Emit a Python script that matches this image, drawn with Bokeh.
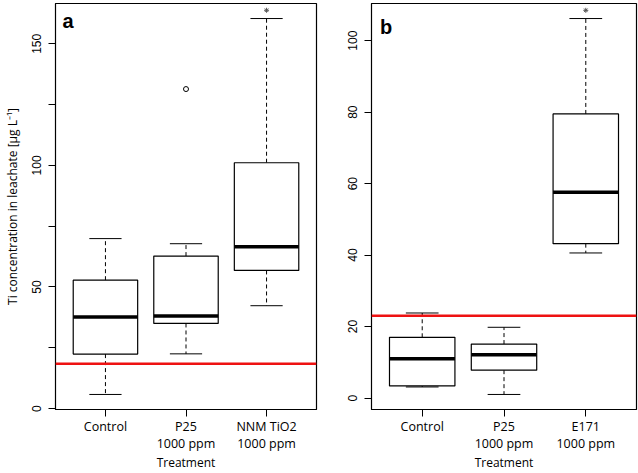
from bokeh.plotting import figure
from bokeh.models import FixedTicker, Span, Label, ColumnDataSource, Range1d, LinearAxis
from bokeh.layouts import row
from bokeh.embed import file_html
from bokeh.resources import INLINE

# ---------------- data: panel a ----------------
a_pos = [1, 2, 3]
a_names = ["Control", "P25", "NNM TiO2"]
a_doses = ["", "1000 ppm", "1000 ppm"]
a_whisk_lo = [5.8, 22.5, 42.3]
a_q1 = [22.4, 35.0, 56.8]
a_med = [37.7, 38.1, 66.5]
a_q3 = [52.8, 62.7, 101.1]
a_whisk_hi = [69.9, 67.8, 160.4]
a_out_x = [2]
a_out_y = [131.4]
a_star_x = [3]
a_star_y = [163.8]
a_limit = 18.4
a_yticks = [0, 25, 50, 75, 100, 125, 150]
a_ylabeled = [0, 50, 100, 150]

# ---------------- data: panel b ----------------
b_pos = [1, 2, 3]
b_names = ["Control", "P25", "E171"]
b_doses = ["", "1000 ppm", "1000 ppm"]
b_whisk_lo = [3.1, 1.0, 40.6]
b_q1 = [3.4, 7.8, 43.2]
b_med = [11.0, 12.1, 57.6]
b_q3 = [17.0, 15.1, 79.5]
b_whisk_hi = [23.8, 19.8, 106.2]
b_out_x = []
b_out_y = []
b_star_x = [3]
b_star_y = [108.5]
b_limit = 23.0
b_yticks = [0, 20, 40, 60, 80, 100]
b_ylabeled = [0, 20, 40, 60, 80, 100]

TICK_FONT = "Liberation Sans"
TEXT_FONT = "Open Sans"


def panel(pos, names, doses, wlo, q1, med, q3, whi, ox, oy, sx, sy, limit,
          yticks, ylabeled, letter, letter_xy, width, left, right, ylabel):
    lo = min(wlo + oy)
    hi = max(whi + oy)
    ext = (hi - lo) * 0.04
    p = figure(width=width, height=473, output_backend="svg",
               toolbar_location=None,
               x_range=Range1d(0.38, 3.62), y_range=Range1d(lo - ext, hi + ext),
               min_border_left=left, min_border_right=right,
               min_border_top=3, min_border_bottom=0)
    p.xgrid.visible = False
    p.ygrid.visible = False
    p.background_fill_color = "white"
    p.border_fill_color = "white"
    p.outline_line_color = "black"
    p.outline_line_width = 1.2

    src = ColumnDataSource(dict(
        x=pos, wlo=wlo, q1=q1, med=med, q3=q3, whi=whi,
        cl=[v - 0.2 for v in pos], cr=[v + 0.2 for v in pos],
        bl=[v - 0.4 for v in pos], br=[v + 0.4 for v in pos]))

    # whiskers
    p.segment(x0="x", y0="q3", x1="x", y1="whi", source=src,
              line_color="black", line_width=1, line_dash="4 3")
    p.segment(x0="x", y0="q1", x1="x", y1="wlo", source=src,
              line_color="black", line_width=1, line_dash="4 3")
    # caps
    p.segment(x0="cl", y0="whi", x1="cr", y1="whi", source=src,
              line_color="black", line_width=1)
    p.segment(x0="cl", y0="wlo", x1="cr", y1="wlo", source=src,
              line_color="black", line_width=1)
    # boxes
    p.vbar(x="x", width=0.8, bottom="q1", top="q3", source=src,
           fill_color="white", line_color="black", line_width=1.2)
    # medians
    p.segment(x0="bl", y0="med", x1="br", y1="med", source=src,
              line_color="black", line_width=3.5)
    # outliers
    if ox:
        p.scatter(x=ox, y=oy, marker="circle", size=5,
                  fill_color=None, line_color="black", line_width=1)
    # significance stars
    p.scatter(x=sx, y=sy, marker="asterisk", size=5,
              line_color="#555555", line_width=1)

    p.add_layout(Span(location=limit, dimension="width",
                      line_color="#ee1111", line_width=2.5))

    p.add_layout(Label(x=letter_xy[0], y=letter_xy[1], text=letter,
                       text_font=TICK_FONT, text_font_style="bold",
                       text_font_size="20px", text_color="black",
                       text_baseline="alphabetic"))

    xa = p.xaxis[0]
    xa.ticker = FixedTicker(ticks=pos)
    xa.major_label_overrides = {v: n for v, n in zip(pos, names)}
    xa.major_label_text_font = TEXT_FONT
    xa.major_label_text_font_size = "12.5px"
    xa.major_label_text_color = "black"
    xa.major_label_standoff = 1
    xa.major_tick_out = 7
    xa.major_tick_in = 0
    xa.minor_tick_line_color = None
    xa.axis_line_color = "black"
    xa.major_tick_line_color = "black"

    xb = LinearAxis(ticker=FixedTicker(ticks=pos),
                    major_label_overrides={v: d for v, d in zip(pos, doses)},
                    major_label_text_font=TEXT_FONT,
                    major_label_text_font_size="12.5px",
                    major_label_text_color="black",
                    major_label_standoff=-3,
                    major_tick_out=0, major_tick_in=0,
                    major_tick_line_color=None, minor_tick_line_color=None,
                    axis_line_color=None,
                    axis_label="Treatment",
                    axis_label_text_font=TEXT_FONT,
                    axis_label_text_font_size="12px",
                    axis_label_text_font_style="normal",
                    axis_label_text_color="black",
                    axis_label_standoff=-1)
    p.add_layout(xb, "below")

    ya = p.yaxis[0]
    ya.ticker = FixedTicker(ticks=yticks)
    ya.major_label_overrides = {v: ("" if v not in ylabeled else str(v)) for v in yticks}
    ya.major_label_orientation = "vertical"
    ya.major_label_text_font = TICK_FONT
    ya.major_label_text_font_size = "12px"
    ya.major_label_text_color = "black"
    ya.major_label_standoff = 7
    ya.major_tick_out = 7
    ya.major_tick_in = 0
    ya.minor_tick_line_color = None
    ya.axis_line_color = "black"
    ya.major_tick_line_color = "black"
    if ylabel:
        ya.axis_label = ylabel
        ya.axis_label_text_font = TEXT_FONT
        ya.axis_label_text_font_size = "12px"
        ya.axis_label_text_font_style = "normal"
        ya.axis_label_text_color = "black"
        ya.axis_label_standoff = 9
    return p


pa = panel(a_pos, a_names, a_doses, a_whisk_lo, a_q1, a_med, a_q3, a_whisk_hi,
           a_out_x, a_out_y, a_star_x, a_star_y, a_limit,
           a_yticks, a_ylabeled, "a", (0.466, 159.2), 318, 52, 2,
           "Ti concentration in leachate [µg L⁻¹]")
pb = panel(b_pos, b_names, b_doses, b_whisk_lo, b_q1, b_med, b_q3, b_whisk_hi,
           b_out_x, b_out_y, b_star_x, b_star_y, b_limit,
           b_yticks, b_ylabeled, "b", (0.483, 103.8), 320, 53, 2, None)

layout = row(pa, pb)
open("out.html", "w").write(file_html(layout, INLINE))
